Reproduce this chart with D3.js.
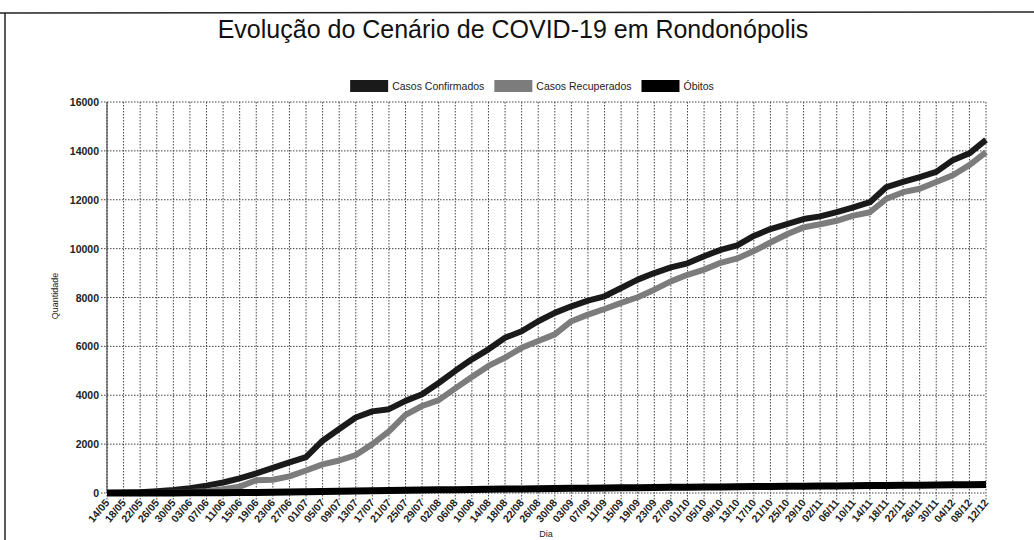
<!DOCTYPE html>
<html>
<head>
    <meta charset="utf-8">
    <title>Evolução do Cenário de COVID-19 em Rondonópolis</title>
    <script src="https://d3js.org/d3.v7.min.js"></script>
    <style>
        body {
            margin: 0;
            background: white;
            font-family: 'Liberation Sans', Arial, sans-serif;
        }
        svg {
            display: block;
        }
    </style>
</head>
<body>
    <svg width="1034" height="540"></svg>

<script>

    // datas (a cada 4 dias, como aparecem no eixo)
    let dias = ["14/05", "18/05", "22/05", "26/05", "30/05", "03/06", "07/06", "11/06", "15/06", "19/06",
        "23/06", "27/06", "01/07", "05/07", "09/07", "13/07", "17/07", "21/07", "25/07", "29/07",
        "02/08", "06/08", "10/08", "14/08", "18/08", "22/08", "26/08", "30/08", "03/09", "07/09",
        "11/09", "15/09", "19/09", "23/09", "27/09", "01/10", "05/10", "09/10", "13/10", "17/10",
        "21/10", "25/10", "29/10", "02/11", "06/11", "10/11", "14/11", "18/11", "22/11", "26/11",
        "30/11", "04/12", "08/12", "12/12"]

    let confirmados = [0, 15, 35, 70, 120, 200, 300, 430, 600, 800,
        1030, 1250, 1470, 2140, 2620, 3090, 3340, 3430, 3770, 4040,
        4500, 5000, 5470, 5880, 6350, 6620, 7030, 7370, 7640, 7870,
        8050, 8390, 8730, 9000, 9230, 9400, 9690, 9950, 10130, 10520,
        10800, 11000, 11210, 11320, 11490, 11690, 11900, 12520, 12730, 12930,
        13140, 13620, 13900, 14450]

    let recuperados = [0, 0, 5, 10, 20, 40, 70, 150, 260, 520,
        540, 680, 920, 1170, 1330, 1550, 2000, 2520, 3200, 3560,
        3800, 4280, 4750, 5200, 5540, 5940, 6220, 6490, 7030, 7300,
        7530, 7780, 8010, 8320, 8660, 8930, 9140, 9420, 9600, 9900,
        10250, 10590, 10870, 11000, 11140, 11350, 11490, 12040, 12310, 12450,
        12730, 13000, 13420, 13950]

    let obitos = [0, 0, 1, 2, 4, 6, 9, 12, 18, 25,
        32, 41, 50, 58, 70, 80, 92, 100, 108, 121,
        130, 137, 145, 150, 161, 168, 174, 183, 190, 196,
        206, 212, 219, 226, 231, 239, 244, 250, 257, 262,
        269, 273, 281, 287, 291, 298, 305, 310, 317, 321,
        329, 334, 341, 348]

    let yTicks = [0, 2000, 4000, 6000, 8000, 10000, 12000, 14000, 16000]

    let series = [
        { nome: "Casos Confirmados", valores: confirmados, cor: "#1a1a1a" },
        { nome: "Casos Recuperados", valores: recuperados, cor: "#7c7c7c" },
        { nome: "Óbitos", valores: obitos, cor: "#000000" }
    ]

    let svg = d3.select("svg")

    let plotLeft = 107, plotRight = 986, plotTop = 102, plotBottom = 493

    let x = d3.scalePoint()
        .domain(dias)
        .range([plotLeft, plotRight])

    let y = d3.scaleLinear()
        .domain([0, 16000])
        .range([plotBottom, plotTop])

    // bordas da folha escaneada
    svg.append("line")
        .attr("x1", 0).attr("x2", 1034)
        .attr("y1", 13).attr("y2", 12)
        .attr("stroke", "#222").attr("stroke-width", 1.5)
    svg.append("line")
        .attr("x1", 5).attr("x2", 5)
        .attr("y1", 13).attr("y2", 540)
        .attr("stroke", "#222").attr("stroke-width", 1.5)

    svg.append("text")
        .text("Evolução do Cenário de COVID-19 em Rondonópolis")
        .attr("x", 513)
        .attr("y", 38)
        .attr("text-anchor", "middle")
        .attr("font-size", "25px")
        .attr("fill", "#111")

    // grade
    svg.append("g")
        .selectAll("line")
        .data(yTicks)
        .join("line")
        .attr("x1", plotLeft - 6)
        .attr("x2", plotRight)
        .attr("y1", d => y(d))
        .attr("y2", d => y(d))
        .attr("stroke", "#444")
        .attr("stroke-dasharray", "1.5,1.5")

    svg.append("g")
        .selectAll("line")
        .data(dias)
        .join("line")
        .attr("x1", d => x(d))
        .attr("x2", d => x(d))
        .attr("y1", plotTop)
        .attr("y2", plotBottom + 7)
        .attr("stroke", "#444")
        .attr("stroke-dasharray", "1.5,1.5")

    svg.append("line")
        .attr("x1", plotLeft).attr("x2", plotLeft)
        .attr("y1", plotTop).attr("y2", plotBottom)
        .attr("stroke", "#333")

    // eixo y
    svg.append("g")
        .selectAll("text")
        .data(yTicks)
        .join("text")
        .text(d => d)
        .attr("x", plotLeft - 8)
        .attr("y", d => y(d) + 4)
        .attr("text-anchor", "end")
        .attr("font-size", "10.5px")
        .attr("font-weight", "bold")
        .attr("fill", "#222")

    // eixo x
    svg.append("g")
        .selectAll("text")
        .data(dias)
        .join("text")
        .text(d => d)
        .attr("text-anchor", "end")
        .attr("font-size", "10.5px")
        .attr("font-weight", "bold")
        .attr("fill", "#222")
        .attr("transform", d => `translate(${x(d) + 3},${plotBottom + 10}) rotate(-50)`)

    svg.append("text").text("Quantidade")
        .attr("transform", "translate(58,296) rotate(-90)")
        .attr("text-anchor", "middle")
        .attr("font-size", "9px")
        .attr("fill", "#222")

    svg.append("text").text("Dia")
        .attr("x", 546)
        .attr("y", 537)
        .attr("text-anchor", "middle")
        .attr("font-size", "9px")
        .attr("fill", "#222")

    // linhas
    let line = d3.line()
        .x((d, i) => x(dias[i]))
        .y(d => y(d))

    svg.append("g")
        .selectAll("path")
        .data(series)
        .join("path")
        .attr("d", d => line(d.valores))
        .attr("fill", "none")
        .attr("stroke", d => d.cor)
        .attr("stroke-width", d => d.nome == "Óbitos" ? 7 : 6)
        .attr("stroke-linejoin", "round")

    // legenda
    let legend = svg.append("g")
    let lx = 0
    series.forEach(s => {
        let item = legend.append("g").attr("transform", `translate(${lx},0)`)
        item.append("rect")
            .attr("width", 38)
            .attr("height", 12)
            .attr("fill", s.cor)
        let t = item.append("text").text(s.nome)
            .attr("x", 42)
            .attr("y", 10)
            .attr("font-size", "10.5px")
            .attr("fill", "#222")
        lx += 42 + t.node().getComputedTextLength() + 10
    })
    legend.attr("transform", `translate(${532 - (lx - 10) / 2},80)`)

</script>
</body>
</html>
